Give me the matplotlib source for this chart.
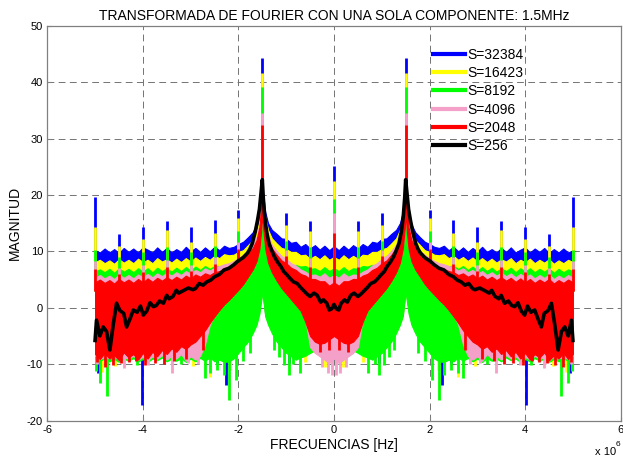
import matplotlib
matplotlib.use("Agg")
import matplotlib.pyplot as plt
from matplotlib.lines import Line2D
import numpy as np

plt.rcParams['font.family'] = ['Liberation Sans', 'DejaVu Sans']
plt.rcParams['axes.unicode_minus'] = False

# ---- datos (mitad positiva del espectro, MHz) ----
freq = [0.0, 0.1, 0.2, 0.3, 0.4, 0.5, 0.6, 0.7, 0.8, 0.9, 1.0, 1.1, 1.2, 1.3,
        1.38, 1.44, 1.48, 1.5, 1.52, 1.56, 1.62,
        1.7, 1.8, 1.9, 2.0, 2.1, 2.2, 2.3, 2.4, 2.5, 2.6, 2.7, 2.8, 2.9,
        3.0, 3.1, 3.2, 3.3, 3.4, 3.5, 3.6, 3.7, 3.8, 3.9,
        4.0, 4.1, 4.2, 4.3, 4.4, 4.5, 4.6, 4.7, 4.8, 4.9, 5.0]

# S=32384
sup_azul = [10.9, 10.2, 11.0, 10.3, 11.1, 10.5, 11.3, 10.8, 11.7, 11.5, 12.2, 12.3, 13.1, 13.8,
            15.0, 17.0, 20.0, 22.5, 20.0, 16.5, 14.8,
            13.4, 12.5, 11.7, 11.3, 10.8, 10.6, 11.0, 10.2, 10.8, 10.0, 10.7, 9.9, 10.6,
            10.0, 10.8, 9.9, 10.4, 9.8, 10.6, 9.9, 10.7, 9.8, 10.3,
            10.7, 9.8, 10.5, 9.9, 10.6, 9.7, 10.4, 9.8, 10.5, 9.8, 10.2]
inf_azul = [-6.8, -7.2, -7.5, -7.2, -7.5, -7.5, -7.5, -7.5, -7.5, -7.0, -6.5, -6.0, -5.0, -4.0,
            -2.6, -1.1, 1.9, 3.9, 1.9, -0.1, -2.1,
            -3.6, -5.0, -6.0, -7.0, -7.6, -8.0, -8.0, -8.0, -8.0, -8.0, -8.0, -8.0, -8.0,
            -8.0, -8.0, -8.0, -8.0, -8.0, -8.0, -8.0, -8.0, -8.0, -8.0,
            -8.0, -8.0, -8.0, -8.0, -8.0, -8.0, -8.0, -8.0, -8.0, -8.0, -8.0]
# S=16423
sup_amarillo = [9.0, 8.5, 9.3, 8.6, 9.2, 8.7, 9.4, 9.3, 9.9, 9.9, 10.4, 10.6, 11.4, 12.3,
                13.8, 16.0, 19.5, 22.2, 19.5, 15.5, 13.5,
                12.0, 11.1, 10.2, 9.9, 9.4, 9.3, 9.5, 8.8, 9.2, 8.5, 9.0, 8.3, 8.9,
                8.2, 8.8, 8.1, 8.7, 8.0, 8.6, 8.2, 8.8, 7.9, 8.5,
                8.1, 8.7, 7.9, 8.5, 8.0, 8.6, 7.8, 8.4, 7.9, 8.5, 8.1]
inf_amarillo = [-7.0, -7.5, -7.8, -7.5, -7.8, -7.8, -7.8, -7.8, -7.8, -7.2, -6.8, -6.2, -5.2, -4.2,
                -2.8, -1.2, 1.8, 3.8, 1.8, -0.2, -2.2,
                -3.8, -5.2, -6.2, -7.2, -7.8, -8.2, -8.2, -8.2, -8.2, -8.2, -8.2, -8.2, -8.2,
                -8.2, -8.2, -8.2, -8.2, -8.2, -8.2, -8.2, -8.2, -8.2, -8.2,
                -8.2, -8.2, -8.2, -8.2, -8.2, -8.2, -8.2, -8.2, -8.2, -8.2, -8.2]
# S=8192
sup_verde = [7.0, 6.5, 7.2, 6.5, 7.0, 6.9, 7.4, 7.3, 7.6, 7.5, 7.8, 7.9, 8.3, 9.0,
             10.2, 12.5, 17.0, 21.0, 17.0, 12.0, 9.5,
             8.3, 7.6, 7.3, 7.2, 7.0, 7.3, 6.9, 7.3, 7.4, 6.9, 7.4, 6.7, 7.3,
             6.6, 7.2, 6.5, 7.1, 6.4, 7.0, 6.5, 7.1, 6.3, 7.0,
             6.4, 7.0, 6.3, 6.9, 6.4, 7.0, 6.2, 6.9, 6.3, 6.8, 6.5]
inf_verde = [-5.5, -6.0, -6.5, -7.0, -7.5, -8.0, -8.5, -8.8, -9.2, -8.6, -8.0, -7.0, -6.0, -4.5,
             -3.0, -1.5, 1.5, 3.0, 1.5, -1.0, -3.0,
             -4.5, -6.0, -7.0, -8.0, -9.0, -9.5, -9.6, -9.2, -9.5, -8.8, -9.4, -8.9, -9.5,
             -9.0, -9.6, -8.9, -9.4, -9.0, -9.5, -8.8, -9.3, -9.0, -9.6,
             -9.1, -9.5, -8.9, -9.4, -9.0, -9.6, -9.1, -9.5, -9.0, -9.4, -9.0]
# S=4096
sup_rosa = [5.8, 5.3, 6.1, 5.5, 5.9, 5.8, 6.4, 6.8, 7.5, 7.9, 8.7, 9.2, 10.1, 11.2,
            12.8, 15.3, 19.0, 22.0, 19.0, 14.8, 12.6,
            11.2, 10.1, 9.4, 8.8, 8.3, 7.9, 7.7, 7.4, 7.1, 6.6, 7.0, 6.3, 6.7,
            6.0, 6.5, 5.8, 6.3, 5.7, 6.2, 5.6, 6.1, 5.4, 6.0,
            5.4, 5.9, 5.2, 5.8, 5.3, 5.9, 5.1, 5.7, 5.2, 5.8, 5.3]
inf_rosa = [-9.0, -9.8, -9.2, -8.6, -8.0, -7.0, -2.0, 0.0, 1.0, 2.0, 3.0, 4.0, 5.2, 6.6,
            8.3, 10.8, 14.3, 17.3, 14.3, 10.8, 8.6,
            7.1, 5.8, 4.5, 3.5, 2.6, 1.7, 0.9, 0.0, -1.2, -3.0, -6.5, -8.5, -9.2,
            -8.6, -9.4, -8.2, -9.0, -8.5, -9.2, -8.4, -9.0, -8.6, -9.3,
            -8.7, -9.2, -8.5, -9.0, -8.8, -9.3, -8.6, -9.0, -8.7, -9.1, -8.5]
# S=2048
sup_rojo = [4.5, 3.9, 4.7, 4.7, 5.1, 5.1, 5.7, 6.0, 6.7, 7.1, 7.9, 8.4, 9.4, 10.5,
            12.2, 14.8, 18.5, 21.8, 18.5, 14.3, 12.0,
            10.6, 9.5, 8.7, 8.1, 7.6, 7.2, 6.9, 6.5, 6.3, 5.8, 6.1, 5.5, 5.9,
            5.2, 5.7, 5.0, 5.5, 4.9, 5.4, 4.8, 5.3, 4.6, 5.2,
            4.5, 5.1, 4.4, 5.0, 4.5, 5.1, 4.3, 4.9, 4.4, 5.0, 4.5]
inf_rojo = [-5.0, -5.6, -6.2, -6.4, -6.0, -5.0, -2.5, -0.5, 0.5, 1.5, 2.5, 3.5, 4.8, 6.3,
            8.0, 10.5, 14.0, 17.0, 14.0, 10.5, 8.3,
            6.8, 5.5, 4.2, 3.2, 2.3, 1.4, 0.6, -0.4, -1.5, -2.7, -4.0, -5.0, -6.0,
            -6.5, -7.3, -6.8, -7.8, -7.2, -8.2, -7.5, -8.6, -7.8, -9.0,
            -8.0, -9.2, -8.2, -8.8, -7.9, -9.3, -8.4, -9.0, -8.0, -9.1, -8.2]

# picos hacia arriba (armonicos y tono de 1.5 MHz)
picos_f = [0.0, 0.5, 1.0, 1.5, 2.0, 2.5, 3.0, 3.5, 4.0, 4.5, 5.0]
picos_base = [2.0, 2.0, 5.0, 18.0, 5.0, 4.0, 3.0, 3.0, 3.0, 3.0, 3.0]
picos_azul = [25.1, 15.3, 16.8, 44.3, 17.3, 15.6, 14.3, 15.3, 14.4, 13.1, 19.7]
picos_amarillo = [22.4, 13.6, 14.6, 41.7, 15.9, 13.2, 11.6, 13.8, 12.2, 10.9, 14.4]
picos_verde = [19.2, 10.8, 11.8, 39.2, 13.6, 11.0, 9.8, 10.8, 9.9, 9.0, 10.3]
picos_rosa = [16.8, 8.8, 10.2, 34.6, 11.6, 9.0, 7.6, 8.4, 7.6, 7.0, 8.2]
picos_rojo = [13.3, 7.2, 9.2, 32.4, 10.4, 7.8, 6.6, 7.2, 6.4, 6.0, 6.8]

# picos hacia abajo
bajos_azul_f = [0.24, 0.63, 0.94, 2.02, 2.27, 2.44, 3.05, 4.01, 4.93]
bajos_azul = [-8.6, -8.0, -9.8, -6.0, -13.7, -9.8, -6.3, -17.3, -11.5]
bajos_amarillo_f = [0.05, 0.18, 0.6, 2.18, 2.6, 2.95, 3.44, 4.59, 4.86]
bajos_amarillo = [-11.2, -10.5, -9.6, -11.0, -12.2, -10.4, -9.2, -10.4, -11.3]
bajos_verde_f = [0.72, 0.85, 0.95, 1.05, 1.15, 1.25, 1.75, 1.9, 2.05, 2.2, 2.3, 2.45,
                 2.6, 2.7, 3.2, 4.13, 4.75, 4.9, 4.98]
bajos_verde = [-11.5, -10.0, -12.0, -10.2, -8.8, -7.5, -8.0, -9.5, -12.8, -16.3, -12.0, -11.0,
               -11.5, -12.5, -10.0, -10.2, -15.7, -13.4, -11.2]
bajos_rosa_f = [0.05, 0.12, 0.25, 2.85, 3.05, 3.4, 3.9, 4.4, 4.95]
bajos_rosa = [-12.0, -11.5, -10.5, -10.0, -9.8, -11.6, -10.2, -10.6, -10.0]
bajos_rojo_f = [0.1, 0.3, 2.75, 3.1, 3.35, 3.55, 3.75, 3.95, 4.15, 4.3, 4.45, 4.62, 4.8, 4.97]
bajos_rojo = [-7.5, -7.8, -7.5, -9.0, -9.4, -9.9, -9.8, -10.1, -9.5, -9.6, -9.8, -10.2, -10.5, -9.6]

# S=256
negro_f = [0.0, 0.05, 0.1, 0.15, 0.22, 0.28, 0.35, 0.42, 0.5, 0.56, 0.63, 0.7, 0.77, 0.85,
           0.92, 0.98, 1.05, 1.11, 1.18, 1.25, 1.31, 1.36, 1.41, 1.45, 1.48, 1.5, 1.52,
           1.56, 1.6, 1.65, 1.71, 1.76, 1.81, 1.9, 2.02, 2.1, 2.2, 2.3, 2.4, 2.5, 2.58,
           2.66, 2.74, 2.82, 2.9, 2.95, 3.05, 3.16, 3.25, 3.3, 3.37, 3.45, 3.5, 3.57,
           3.65, 3.72, 3.78, 3.85, 3.92, 3.99, 4.05, 4.12, 4.2, 4.27, 4.34, 4.4, 4.48,
           4.55, 4.62, 4.69, 4.76, 4.83, 4.9, 4.97, 5.0]
negro = [0.6, -0.2, -0.4, 0.8, 1.4, 1.0, 2.2, 2.6, 2.0, 2.4, 3.0, 3.6, 4.3, 4.6,
         5.2, 5.8, 6.4, 7.3, 8.1, 9.1, 10.3, 11.4, 13.5, 16.2, 19.5, 22.7, 21.0,
         17.5, 15.5, 13.4, 11.4, 10.4, 9.7, 8.9, 8.2, 7.6, 7.0, 6.7, 5.9, 5.5, 4.9,
         4.6, 4.0, 4.3, 3.4, 3.2, 3.5, 3.0, 2.6, 3.1, 2.0, 1.6, 2.2, 0.8,
         1.2, 0.4, 0.2, 0.9, -0.6, -1.3, 0.3, -0.8, -0.4, -2.0, -3.4, -1.0, -0.5,
         0.8, -3.0, -7.5, -4.2, -3.4, -5.0, -2.2, -5.8]

etiquetas = ['S=32384', 'S=16423', 'S=8192', 'S=4096', 'S=2048', 'S=256']
colores = ['#0000ff', '#ffff00', '#00ff00', '#f4a0c8', '#ff0000', '#000000']


def espejo(f, v):
    # espectro de una señal real: simetrico respecto a 0
    f = np.asarray(f)
    v = np.asarray(v)
    if f[0] == 0:
        return np.concatenate([-f[::-1], f[1:]]), np.concatenate([v[::-1], v[1:]])
    return np.concatenate([-f[::-1], f]), np.concatenate([v[::-1], v])


fig = plt.figure(figsize=(6.23, 4.58), dpi=100)
ax = fig.add_axes([0.0759, 0.0817, 0.9204, 0.8622])

series = [
    (sup_azul, inf_azul, picos_azul, bajos_azul_f, bajos_azul),
    (sup_amarillo, inf_amarillo, picos_amarillo, bajos_amarillo_f, bajos_amarillo),
    (sup_verde, inf_verde, picos_verde, bajos_verde_f, bajos_verde),
    (sup_rosa, inf_rosa, picos_rosa, bajos_rosa_f, bajos_rosa),
    (sup_rojo, inf_rojo, picos_rojo, bajos_rojo_f, bajos_rojo),
]

_, base = espejo(picos_f, picos_base)
for k, (sup, inf, picos, bf, bv) in enumerate(series):
    c = colores[k]
    x, yu = espejo(freq, sup)
    _, yl = espejo(freq, inf)
    ax.fill_between(x, yl, yu, color=c, lw=0.8, edgecolor=c, zorder=2 + k)
    xp, yp = espejo(picos_f, picos)
    ax.vlines(xp, base, yp, color=c, lw=2.0, zorder=2 + k)
    xb, yb = espejo(bf, bv)
    ax.vlines(xb, yb, -3, color=c, lw=2.0, zorder=2 + k)

xn, yn = espejo(negro_f, negro)
ax.plot(xn, yn, color='k', lw=2.6, zorder=10)

ax.set_xlim(-6, 6)
ax.set_ylim(-20, 50)
ax.set_xticks(range(-6, 7, 2))
ax.set_yticks(range(-20, 51, 10))
ax.grid(True, linestyle=(0, (7, 4.5)), color='0.45', lw=0.7)
ax.set_axisbelow(True)
for s in ax.spines.values():
    s.set_color('0.5')
    s.set_linewidth(0.9)
ax.tick_params(direction='in', length=3, color='0.5', labelsize=8, pad=3)

ax.set_title('TRANSFORMADA DE FOURIER CON UNA SOLA COMPONENTE: 1.5MHz', fontsize=10, pad=4)
ax.set_xlabel('FRECUENCIAS [Hz]', fontsize=10, labelpad=2)
ax.set_ylabel('MAGNITUD', fontsize=10, labelpad=4)
fig.text(595 / 623, 1 - 455 / 458, 'x 10', fontsize=8, ha='left', va='baseline')
fig.text(616 / 623, 1 - 446 / 458, '6', fontsize=6, ha='left', va='baseline')

manejadores = [Line2D([], [], color=c, lw=3) for c in colores]
ax.legend(manejadores, etiquetas, loc='upper left', bbox_to_anchor=(433 / 623, 1 - 48 / 458),
          bbox_transform=fig.transFigure, frameon=False, fontsize=10, borderpad=0,
          borderaxespad=0, handlelength=2.3, handletextpad=0.2, labelspacing=0.3)

fig.savefig('out.png', dpi=100)
